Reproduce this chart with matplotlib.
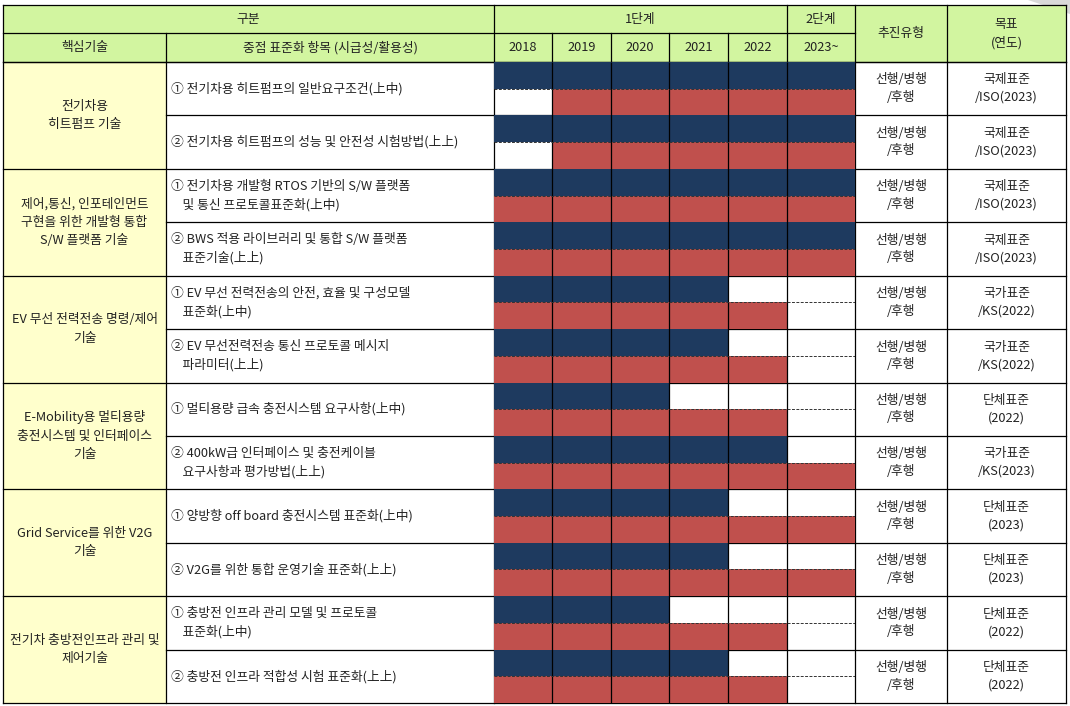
import numpy as np
import matplotlib.pyplot as plt
from matplotlib.patches import Rectangle, Polygon

plt.rcParams['font.family'] = ['Noto Sans CJK KR', 'DejaVu Sans']

# data
years = ['2018', '2019', '2020', '2021', '2022', '2023~']
groups = ['전기차용\n히트펌프 기술',
          '제어,통신, 인포테인먼트\n구현을 위한 개발형 통합\nS/W 플랫폼 기술',
          'EV 무선 전력전송 명령/제어\n기술',
          'E-Mobility용 멀티용량\n충전시스템 및 인터페이스\n기술',
          'Grid Service를 위한 V2G\n기술',
          '전기차 충방전인프라 관리 및\n제어기술']
items = ['① 전기차용 히트펌프의 일반요구조건(上中)',
         '② 전기차용 히트펌프의 성능 및 안전성 시험방법(上上)',
         '① 전기차용 개발형 RTOS 기반의 S/W 플랫폼\n    및 통신 프로토콜표준화(上中)',
         '② BWS 적용 라이브러리 및 통합 S/W 플랫폼\n    표준기술(上上)',
         '① EV 무선 전력전송의 안전, 효율 및 구성모델\n    표준화(上中)',
         '② EV 무선전력전송 통신 프로토콜 메시지\n    파라미터(上上)',
         '① 멀티용량 급속 충전시스템 요구사항(上中)',
         '② 400kW급 인터페이스 및 충전케이블\n    요구사항과 평가방법(上上)',
         '① 양방향 off board 충전시스템 표준화(上中)',
         '② V2G를 위한 통합 운영기술 표준화(上上)',
         '① 충방전 인프라 관리 모델 및 프로토콜\n    표준화(上中)',
         '② 충방전 인프라 적합성 시험 표준화(上上)']
# year index (0 = 2018 ... 5 = 2023~), inclusive
blue_start = [0, 0, 0, 0, 0, 0, 0, 0, 0, 0, 0, 0]
blue_end = [5, 5, 5, 5, 3, 3, 2, 4, 3, 3, 2, 3]
red_start = [1, 1, 0, 0, 0, 0, 0, 0, 0, 0, 0, 0]
red_end = [5, 5, 5, 5, 4, 4, 4, 5, 5, 5, 4, 4]
types = ['선행/병행\n/후행'] * 12
targets = ['국제표준\n/ISO(2023)', '국제표준\n/ISO(2023)', '국제표준\n/ISO(2023)', '국제표준\n/ISO(2023)',
           '국가표준\n/KS(2022)', '국가표준\n/KS(2022)', '단체표준\n(2022)', '국가표준\n/KS(2023)',
           '단체표준\n(2023)', '단체표준\n(2023)', '단체표준\n(2022)', '단체표준\n(2022)']

NAVY = '#1e3a5f'
RED = '#c0504d'
GREEN = '#d2f5a0'
YELLOW = '#ffffcc'
TXT = '#222222'
FS = 9.2

W, H = 1070, 706
fig = plt.figure(figsize=(W / 100, H / 100), dpi=100)
ax = fig.add_axes([0, 0, 1, 1])
ax.set_xlim(0, W)
ax.set_ylim(H, 0)
ax.axis('off')

# layout (pixels)
xc = [3, 166, 494, 855, 947, 1066]
yh = [5, 33, 62]
ybot = 703
n = len(items)
rh = (ybot - yh[2]) / n
ycol = [494, 552, 611, 669, 728, 787, 855]

# page curl in the corner
ax.add_patch(Polygon([[1028, 0], [1070, 0], [1070, 14]], closed=True, color='#d9d9d9', lw=0))

# backgrounds
ax.add_patch(Rectangle((xc[0], yh[0]), xc[5] - xc[0], yh[2] - yh[0], color=GREEN, lw=0))
ax.add_patch(Rectangle((xc[0], yh[2]), xc[1] - xc[0], ybot - yh[2], color=YELLOW, lw=0))

lk = dict(color='black', lw=0.9)
# header lines
ax.plot([xc[0], xc[5]], [yh[0], yh[0]], **lk)
ax.plot([xc[0], xc[3]], [yh[1], yh[1]], **lk)
ax.plot([xc[0], xc[5]], [yh[2], yh[2]], **lk)
ax.plot([xc[0], xc[5]], [ybot, ybot], **lk)
for x in [xc[0], xc[3], xc[4], xc[5]]:
    ax.plot([x, x], [yh[0], ybot], **lk)
ax.plot([xc[1], xc[1]], [yh[1], ybot], **lk)
ax.plot([xc[2], xc[2]], [yh[0], ybot], **lk)
ax.plot([ycol[5], ycol[5]], [yh[0], yh[2]], **lk)
for x in ycol[1:5]:
    ax.plot([x, x], [yh[1], yh[2]], **lk)

tk = dict(ha='center', va='center', fontsize=FS, color=TXT)
# header text
ax.text((xc[0] + xc[2]) / 2, (yh[0] + yh[1]) / 2, '구분', **tk)
ax.text((xc[2] + ycol[5]) / 2, (yh[0] + yh[1]) / 2, '1단계', **tk)
ax.text((ycol[5] + xc[3]) / 2, (yh[0] + yh[1]) / 2, '2단계', **tk)
ax.text((xc[0] + xc[1]) / 2, (yh[1] + yh[2]) / 2, '핵심기술', **tk)
ax.text((xc[1] + xc[2]) / 2, (yh[1] + yh[2]) / 2, '중점 표준화 항목 (시급성/활용성)', **tk)
for k, yr in enumerate(years):
    ax.text((ycol[k] + ycol[k + 1]) / 2, (yh[1] + yh[2]) / 2, yr, **tk)
ax.text((xc[3] + xc[4]) / 2, (yh[0] + yh[2]) / 2, '추진유형', **tk)
ax.text((xc[4] + xc[5]) / 2, (yh[0] + yh[2]) / 2, '목표\n(연도)', linespacing=1.45, **tk)

# body rows
for i in range(n):
    y0 = yh[2] + i * rh
    yc = y0 + rh / 2
    if i % 2 == 0:
        ax.plot([xc[0], xc[5]], [y0, y0], **lk)
    else:
        ax.plot([xc[1], xc[5]], [y0, y0], **lk)
    ax.text(xc[1] + 5, yc, items[i], ha='left', va='center', fontsize=FS, color=TXT, linespacing=1.45)
    ax.text((xc[3] + xc[4]) / 2, yc, types[i], linespacing=1.45, **tk)
    ax.text((xc[4] + xc[5]) / 2, yc, targets[i], linespacing=1.45, **tk)

for g, name in enumerate(groups):
    yc = yh[2] + (2 * g + 1) * rh
    ax.text((xc[0] + xc[1]) / 2, yc, name, linespacing=1.55, **tk)

# gantt area: year index axis mapped onto the unequal column widths
gx = fig.add_axes([xc[2] / W, (H - ybot) / H, (xc[3] - xc[2]) / W, (ybot - yh[2]) / H])
idx = np.arange(7)
gx.set_xscale('function', functions=(lambda v: np.interp(v, idx, ycol),
                                     lambda p: np.interp(p, ycol, idx)))
gx.set_xlim(0, 6)
gx.set_ylim(n, 0)
gx.axis('off')
for i in range(n):
    gx.barh(i + 0.25, blue_end[i] - blue_start[i] + 1, left=blue_start[i], height=0.5, color=NAVY, lw=0)
    gx.barh(i + 0.75, red_end[i] - red_start[i] + 1, left=red_start[i], height=0.5, color=RED, lw=0)
gx.vlines(range(1, 6), 0, n, color='black', lw=0.9)
gx.hlines([i + 0.5 for i in range(n)], 0, 6, color='#333333', lw=0.7, linestyles=(0, (3, 1.5)))

fig.savefig('out.png', dpi=100)
